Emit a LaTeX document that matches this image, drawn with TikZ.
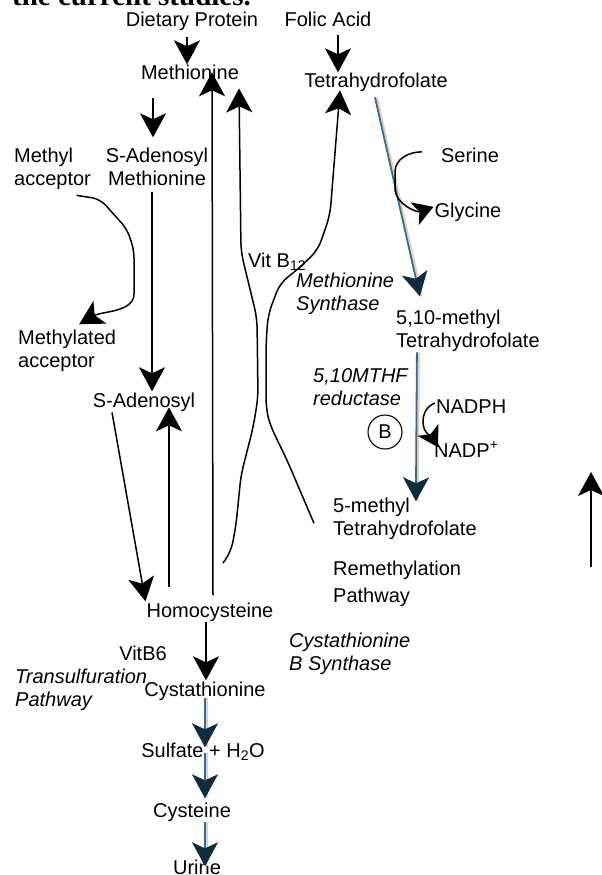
\documentclass[tikz,border=0pt]{standalone}
\usepackage{fontspec}
\setmainfont{Liberation Sans}
\newfontfamily\pagefont{Liberation Serif}
\usetikzlibrary{arrows.meta}

\definecolor{foline}{RGB}{35,115,160}
\definecolor{fohead}{RGB}{15,45,60}
\definecolor{fofringe}{RGB}{245,200,175}

\tikzset{
  lbl/.style={inner sep=1pt, font=\fontsize{20}{23}\selectfont},
  lblit/.style={inner sep=1pt, font=\fontsize{20}{23}\selectfont\itshape},
  arr/.style={line width=1.5pt, -{Stealth[length=24pt,width=26pt,inset=6pt]}},
  smallarr/.style={line width=1.5pt, -{Stealth[length=20pt,width=24pt,inset=5pt]}},
  bluearr/.style={line width=1.8pt, draw=foline,
    -{Stealth[length=24pt,width=26pt,inset=6pt,color=fohead]},
    preaction={draw=fofringe, line width=3.5pt, arrows=-, transform canvas={xshift=1.2pt}}},
}

\begin{document}
\begin{tikzpicture}[x=1pt, y=-1pt]
    \useasboundingbox (0,0) rectangle (602,875);

    % Last line of the page text, cut by the top edge
    \node[inner sep=0, anchor=base west, font=\pagefont\bfseries\fontsize{29}{32}\selectfont]
        (pagetxt) at (12,6) {the current studies.};

    % Sources at the top
    \node[lbl, anchor=base] (diet) at (192,27) {Dietary Protein};
    \node[lbl, anchor=base] (folic) at (328,27) {Folic Acid};
    \node[lbl, anchor=base] (met) at (190,80) {Methionine};
    \node[lbl, anchor=base] (thf) at (376,88) {Tetrahydrofolate};

    % Methyl transfer (left); two-line labels sit on their last baseline
    \node[lbl, anchor=base west, align=left] (macc) at (13,185) {Methyl\\acceptor};
    \node[lbl, anchor=base, align=center] (sam) at (157,185) {S-Adenosyl\\Methionine};
    \node[lbl, anchor=base west, align=left] (macd) at (17,367) {Methylated\\acceptor};
    \node[lbl, anchor=base] (sah) at (144,407) {S-Adenosyl};

    % Folate cycle (right)
    \node[lbl, anchor=base] (serine) at (470,162) {Serine};
    \node[lbl, anchor=base] (glycine) at (468,217) {Glycine};
    \node[lbl, anchor=base west] (vitb) at (247,267) {Vit B\textsubscript{12}};
    \node[lblit, anchor=base west, align=left] (msyn) at (295,310) {Methionine\\Synthase};
    \node[lbl, anchor=base west, align=left] (mten) at (395,347) {5,10-methyl\\Tetrahydrofolate};
    \node[lblit, anchor=base west, align=left] (mthfr) at (312,405) {5,10MTHF\\reductase};
    \node[lbl, anchor=base west] (nadph) at (435,413) {NADPH};
    \node[lbl, anchor=base west] (nadp) at (433,457) {NADP\textsuperscript{+}};
    \node[lbl, draw, circle, line width=1.1pt, minimum size=34pt, inner sep=0] (enzb) at (385,432) {B};
    \node[lbl, anchor=base west, align=left] (mfive) at (332,535) {5-methyl\\Tetrahydrofolate};
    \node[lbl, anchor=base west, align=left] (remeth) at (332,602) {Remethylation\\[4pt]Pathway};

    % Transsulfuration (bottom)
    \node[lbl, anchor=base] (hcy) at (210,617) {Homocysteine};
    \node[lblit, anchor=base west, align=left] (cbs) at (288,670) {Cystathionine\\B Synthase};
    \node[lbl, anchor=base] (vitsix) at (143,660) {VitB6};
    \node[lblit, anchor=base west, align=left] (trans) at (14,706) {Transulfuration\\Pathway};
    \node[lbl, anchor=base] (cysta) at (205,696) {Cystathionine};
    \node[lbl, anchor=base] (sulf) at (203,757) {Sulfate + H\textsubscript{2}O};
    \node[lbl, anchor=base] (cys) at (192,817) {Cysteine};
    \node[lbl, anchor=base] (urine) at (197,874) {Urine};

    % Free ends
    \coordinate (waveA) at (223,563);
    \coordinate (loneS) at (591,567);
    \coordinate (loneE) at (591,472);

    % Methionine cycle
    \draw[arr] ([xshift=-5pt,yshift=-5pt]diet.south) -- ([xshift=-3pt]met.north);
    \draw[arr] ([xshift=-37pt,yshift=-17pt]met.south) -- ([xshift=-4pt,yshift=9pt]sam.north);
    \draw[arr] ([xshift=-5pt,yshift=-6pt]sam.south) -- ([xshift=8pt]sah.north);
    \draw[arr] ([xshift=-32pt]sah.south) -- (hcy.north west);
    \draw[arr] ([xshift=-41pt,yshift=14pt]hcy.north) -- ([xshift=25pt,yshift=5pt]sah.south);
    \draw[arr] ([xshift=3pt,yshift=6pt]hcy.north) -- ([xshift=22pt,yshift=-8pt]met.north);
    \draw[arr, rounded corners=8pt] ([xshift=24pt,yshift=-5pt]macc.south) -- (100,199) -- (127,229)
        -- (134,250) -- (134,286) to[out=-90, in=30] ([xshift=12pt,yshift=4pt]macd.north);

    % B12 dependent remethylation
    \draw[arr, rounded corners=10pt] (waveA) -- (231,552) -- (236,525) -- (241,475) -- (253,428)
        -- (258,398) -- (257,318) -- (241,252) -- ([xshift=49pt,yshift=-7pt]met.south);
    \draw[arr, rounded corners=10pt] ([xshift=-18pt,yshift=-5pt]mfive.west) -- (287,460) -- (270,425)
        -- (266,408) -- (266,345) -- (268,315) -- (280,283) -- (297,270) -- (318,250) -- (330,215)
        -- ([xshift=-36pt,yshift=3pt]thf.south);

    % Folate cycle
    \draw[arr] ([xshift=10pt,yshift=-7pt]folic.south) -- ([xshift=-38pt]thf.north);
    \draw[bluearr] ([xshift=-1pt,yshift=-4pt]thf.south) -- ([xshift=-48pt,yshift=12pt]mten.north);
    \draw[smallarr] ([xshift=-18pt,yshift=3pt]serine.west) to[out=180, in=90] (395,172) -- (395,188)
        to[out=-90, in=200] ([yshift=5pt]glycine.west);
    \draw[bluearr] ([xshift=-51pt]mten.south) -- ([xshift=11pt,yshift=-5pt]mfive.north);
    \draw[smallarr] ([yshift=3pt]nadph.west) to[out=200, in=90] (423,422)
        to[out=-90, in=120] ([xshift=5pt,yshift=2pt]nadp.west);

    % Transsulfuration
    \draw[arr] ([xshift=-4pt]hcy.south) -- ([xshift=1pt]cysta.north);
    \draw[bluearr] ([yshift=3pt]cysta.south) -- ([xshift=2pt,yshift=-6pt]sulf.north);
    \draw[bluearr] ([xshift=2pt,yshift=8pt]sulf.south) -- ([xshift=13pt,yshift=3pt]cys.north);
    \draw[bluearr] ([xshift=13pt]cys.south) -- ([xshift=8pt,yshift=-8pt]urine.north);

    % Arrow at the right edge
    \draw[arr] (loneS) -- (loneE);
\end{tikzpicture}
\end{document}
